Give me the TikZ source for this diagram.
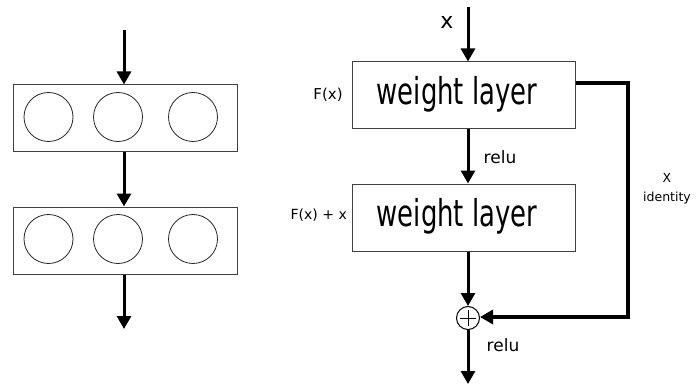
\documentclass[tikz,border=0pt]{standalone}
\usepackage{fontspec}
\setmainfont{DejaVu Sans}
\usetikzlibrary{arrows.meta}
\begin{document}
\begin{tikzpicture}[x=1pt,y=-1pt,
  layerbox/.style={draw=black!75,line width=1pt,rectangle,minimum width=223pt,minimum height=67pt,inner sep=0pt},
  neuron/.style={draw=black!85,line width=0.8pt,circle,minimum size=49pt,inner sep=0pt},
  flow/.style={line width=3pt,-{Triangle[width=14pt,length=13pt]}},
  skip/.style={line width=4pt,-{Triangle[width=14pt,length=13pt]}},
  big/.style={font=\fontsize{37}{37}\selectfont,xscale=0.70},
  lbl/.style={inner sep=0pt}]
\useasboundingbox (0,0) rectangle (696,385);
% left network
\node[layerbox,minimum width=224pt] (l1) at (125,118.5) {};
\node[layerbox,minimum width=224pt] (l2) at (125,240.5) {};
\foreach \b/\y in {l1/117,l2/239}{
  \node[neuron] (\b a) at (48.5,\y) {};
  \node[neuron] (\b b) at (118,\y) {};
  \node[neuron] (\b c) at (193,\y) {};
}
\coordinate (lin) at (124,30);
\coordinate (lout) at (124,329);
\draw[flow] (lin) -- (lin |- l1.north);
\draw[flow] (lin |- l1.south) -- (lin |- l2.north);
\draw[flow] (lin |- l2.south) -- (lout);
% right residual block
\node[layerbox] (w1) at (463.5,95.5) {};
\node[big] (t1) at (457,94) {weight layer};
\node[layerbox] (w2) at (463.5,217.5) {};
\node[big] (t2) at (457,216) {weight layer};
\node[draw=black,line width=1pt,circle,minimum size=23pt,inner sep=0pt] (sum) at (468,318) {};
\draw[line width=0.9pt] ([yshift=-8pt]sum.center) -- ([yshift=8pt]sum.center)
  ([xshift=-8pt]sum.center) -- ([xshift=8pt]sum.center);
\coordinate (rin) at (468,7);
\coordinate (rout) at (468,384);
\coordinate (corner1) at (628,83);
\coordinate (corner2) at (628,317);
\draw[flow] (rin) -- (rin |- w1.north);
\draw[flow] (rin |- w1.south) -- (rin |- w2.north);
\draw[flow] (rin |- w2.south) -- (sum.north);
\draw[flow] (sum.south) -- (rout);
\draw[skip] (w1.east |- corner1) -- (corner1) -- (corner2) -- (sum.east |- corner2);
% labels
\node[lbl,font=\fontsize{22}{22}\selectfont] (xlab) at (447,22) {x};
\node[lbl,font=\fontsize{15}{15}\selectfont] (fx) at (328,95) {F(x)};
\node[lbl,font=\fontsize{14}{14}\selectfont,anchor=east] (fxx) at (347,215) {F(x) + x};
\node[lbl,font=\fontsize{17}{17}\selectfont] (relu1) at (500,157) {relu};
\node[lbl,font=\fontsize{17}{17}\selectfont] (relu2) at (503,345) {relu};
\node[lbl,font=\fontsize{12.5}{12.5}\selectfont] (X) at (667,178) {X};
\node[lbl,font=\fontsize{12.5}{12.5}\selectfont] (id) at (667,198) {identity};
\end{tikzpicture}
\end{document}
